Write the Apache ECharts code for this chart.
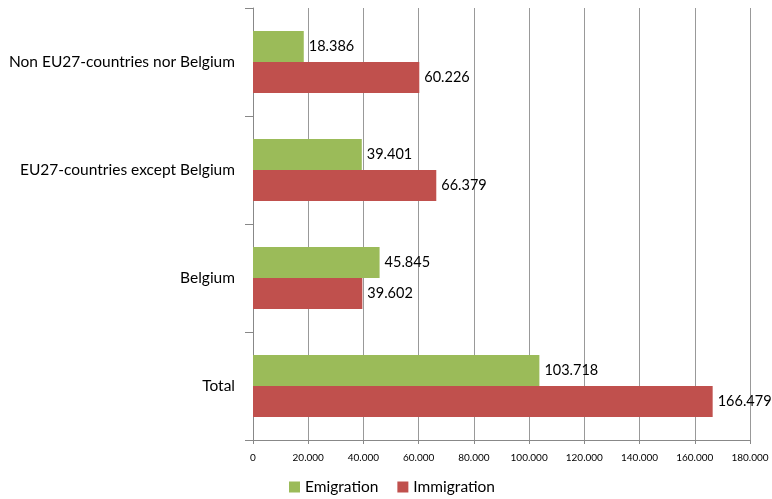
<!DOCTYPE html>
<html><head><meta charset="utf-8">
<script src="https://cdn.jsdelivr.net/npm/echarts@6/dist/echarts.min.js"></script>
<style>html,body{margin:0;padding:0;background:#fff}#c{width:772px;height:499px}</style>
</head><body><div id="c"></div>
<script>
const categories = ['Total', 'Belgium', 'EU27-countries except Belgium', 'Non EU27-countries nor Belgium'];
const emigration = [103718, 45845, 39401, 18386];
const immigration = [166479, 39602, 66379, 60226];
const seriesNames = ['Emigration', 'Immigration'];
const axisMax = 180000, axisInterval = 20000;

function fmt(v){ return String(v).replace(/\B(?=(\d{3})+(?!\d))/g, '.'); }
const font = 'Lato, "Open Sans", sans-serif';
const chart = echarts.init(document.getElementById('c'));
chart.setOption({
  animation: false,
  textStyle: {fontFamily: font},
  grid: {left: 253, right: 22, top: 8, bottom: 59, containLabel: false},
  legend: {
    data: seriesNames, top: 474, left: 284, itemWidth: 11, itemHeight: 11, itemGap: 19,
    icon: 'rect', textStyle: {fontSize: 15.5, color: '#000', fontFamily: font}
  },
  xAxis: {
    type: 'value', min: 0, max: axisMax, interval: axisInterval,
    axisLine: {show: true, lineStyle: {color: '#888'}},
    axisTick: {show: true, length: 4, lineStyle: {color: '#888'}},
    splitLine: {show: true, lineStyle: {color: '#999'}},
    axisLabel: {fontSize: 10, color: '#000', margin: 13, formatter: v => fmt(v)}
  },
  yAxis: {
    type: 'category', data: categories,
    axisLine: {show: true, lineStyle: {color: '#888'}},
    axisTick: {show: true, length: 8, lineStyle: {color: '#888'}},
    axisLabel: {fontSize: 15.5, color: '#000', margin: 18}
  },
  series: [
    {name: 'Emigration', type: 'bar', data: emigration, barWidth: 31, barGap: '0%',
     itemStyle: {color: '#9BBB59'},
     label: {show: true, position: 'right', fontSize: 14.5, color: '#000', distance: 5, formatter: p => fmt(p.value)}},
    {name: 'Immigration', type: 'bar', data: immigration, barWidth: 31, barGap: '0%',
     itemStyle: {color: '#C0504D'},
     label: {show: true, position: 'right', fontSize: 14.5, color: '#000', distance: 5, formatter: p => fmt(p.value)}}
  ]
});
</script></body></html>
